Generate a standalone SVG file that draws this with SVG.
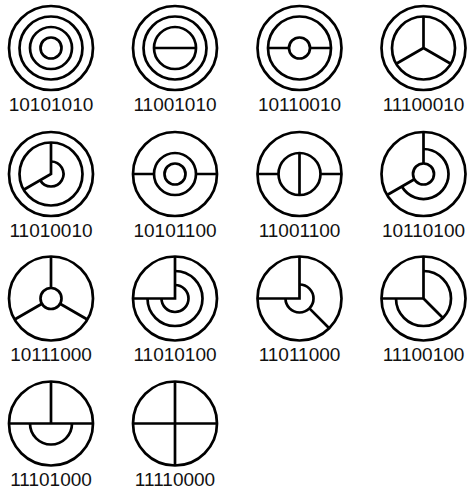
<svg xmlns="http://www.w3.org/2000/svg" width="468" height="489" viewBox="0 0 468 489">
<style>
.s{fill:none;stroke:#000;stroke-width:2.7}
text{font-family:"Liberation Sans",Arial,Helvetica,sans-serif;font-size:19px;text-anchor:middle;fill:#111}
</style>
<defs>
<circle id="c42" r="42"/>
</defs>
<rect width="468" height="489" fill="#fff"/>
<g id="n10101010" transform="translate(51,48)">
<g class="s"><circle r="42"/><circle r="31.5"/><circle r="21"/><circle r="10.5"/></g>
<text y="62.5">10101010</text>
</g>
<g id="n11001010" transform="translate(175,48)">
<g class="s"><circle r="42"/><circle r="31.5"/><circle r="21"/><path d="M-21 0H21"/></g>
<text y="62.5">11001010</text>
</g>
<g id="n10110010" transform="translate(299.5,48)">
<g class="s"><circle r="42"/><circle r="31.5"/><circle r="10.5"/><path d="M-31.5 0H-10.5M10.5 0H31.5"/></g>
<text y="62.5">10110010</text>
</g>
<g id="n11100010" transform="translate(423.5,48)">
<g class="s"><circle r="42"/><circle r="31.5"/><path d="M0 0V-31.5M0 0L-27.28 15.75M0 0L27.28 15.75"/></g>
<text y="62.5">11100010</text>
</g>
<g id="n11010010" transform="translate(51,174)">
<g class="s"><circle r="42"/><circle r="31.5"/><path d="M0 -31.5V0L-27.28 15.75"/><path d="M0 -12.5A12.5 12.5 0 1 1 -10.83 6.25"/></g>
<text y="62.5">11010010</text>
</g>
<g id="n10101100" transform="translate(175,174)">
<g class="s"><circle r="42"/><circle r="21"/><circle r="10.5"/><path d="M-42 0H-21M21 0H42"/></g>
<text y="62.5">10101100</text>
</g>
<g id="n11001100" transform="translate(299.5,174)">
<g class="s"><circle r="42"/><circle r="21"/><path d="M-42 0H-21M21 0H42M0 -21V21"/></g>
<text y="62.5">11001100</text>
</g>
<g id="n10110100" transform="translate(423.5,174)">
<g class="s"><circle r="42"/><circle r="10.5"/><path d="M0 -42V-10.5M-9.09 5.25L-36.37 21"/><path d="M0 -25A25 25 0 1 1 -21.65 12.5"/></g>
<text y="62.5">10110100</text>
</g>
<g id="n10111000" transform="translate(51,298.5)">
<g class="s"><circle r="42"/><circle r="10.5"/><path d="M0 -10.5V-42M-9.09 5.25L-36.37 21M9.09 5.25L36.37 21"/></g>
<text y="62.5">10111000</text>
</g>
<g id="n11010100" transform="translate(175,298.5)">
<g class="s"><circle r="42"/><path d="M0 -42V0H-42"/><path d="M0 -27.5A27.5 27.5 0 1 1 -27.5 0M0 -13.5A13.5 13.5 0 1 1 -13.5 0"/></g>
<text y="62.5">11010100</text>
</g>
<g id="n11011000" transform="translate(299.5,298.5)">
<g class="s"><circle r="42"/><path d="M0 -42V0H-42"/><path d="M0 -14A14 14 0 1 1 -14 0"/><path d="M9.9 9.9L29.7 29.7"/></g>
<text y="62.5">11011000</text>
</g>
<g id="n11100100" transform="translate(423.5,298.5)">
<g class="s"><circle r="42"/><path d="M0 -42V0H-42"/><path d="M0 -27.5A27.5 27.5 0 1 1 -27.5 0"/><path d="M0 0L19.45 19.45"/></g>
<text y="62.5">11100100</text>
</g>
<g id="n11101000" transform="translate(51,423.5)">
<g class="s"><circle r="42"/><path d="M-42 0H42M0 0V-42"/><path d="M-21 0A21 21 0 0 0 21 0"/></g>
<text y="62">11101000</text>
</g>
<g id="n11110000" transform="translate(175,423.5)">
<g class="s"><circle r="42"/><path d="M-42 0H42M0 -42V42"/></g>
<text y="62">11110000</text>
</g>
</svg>
